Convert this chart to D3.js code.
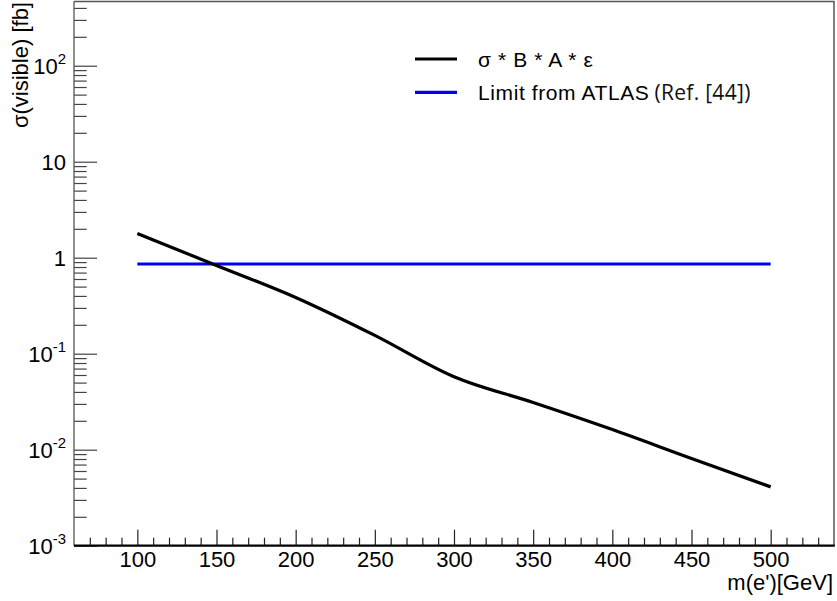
<!DOCTYPE html>
<html>
<head>
<meta charset="utf-8">
<script src="https://cdn.jsdelivr.net/npm/d3@7"></script>
<style>
  html, body { margin: 0; padding: 0; background: #fff; }
  svg { display: block; }
  text { font-family: "Liberation Sans", Arial, Helvetica, sans-serif; }
</style>
</head>
<body>
<svg id="chart" width="837" height="601"></svg>
<script>
// Signal curve: visible cross section vs e' mass
const masses = [100, 150, 200, 250, 300, 350, 400, 450, 500];
const sigmaVisible = [1.79, 0.83, 0.385, 0.155, 0.0575, 0.031, 0.0162, 0.0081, 0.0041];
// ATLAS limit (flat)
const limitMasses = [100, 500];
const limitValues = [0.86, 0.86];

const xMajorTicks = [100, 150, 200, 250, 300, 350, 400, 450, 500];
const yDecades = [1e-3, 1e-2, 1e-1, 1, 10, 100];
const yDecadeLabels = [["10", "-3"], ["10", "-2"], ["10", "-1"], ["1", ""], ["10", ""], ["10", "2"]];
const legendLabels = ["σ * B * A * ε", "Limit from ATLAS"];
const legendRef = "(Ref. [44])";

const W = 837, H = 601;
const plot = { left: 74, right: 834, top: 1.5, bottom: 545.7 };

const svg = d3.select("#chart");

const x = d3.scaleLinear().domain([60, 540]).range([plot.left, plot.right]);
const y = d3.scaleLog().domain([1e-3, Math.pow(10, 2.669)]).range([plot.bottom, plot.top]);

// minor ticks
const xMinor = d3.range(70, 540, 10).filter(v => v % 50 !== 0);
const yMinor = [];
yDecades.forEach(d => {
  for (let k = 2; k <= 9; k++) {
    const v = d * k;
    if (v < y.domain()[1]) yMinor.push(v);
  }
});

const axisColor = "#444";

// frame: top and right edges
svg.append("path")
  .attr("d", `M${plot.left},${plot.top}H${plot.right}V${plot.bottom}`)
  .attr("fill", "none").attr("stroke", "#555").attr("stroke-width", 1.5);

// y axis (ticks point into the plot)
const gy = svg.append("g").attr("transform", `translate(${plot.left},0)`);
gy.append("g").call(d3.axisLeft(y).tickValues(yMinor).tickSize(-12.7).tickFormat(""))
  .call(g => g.select(".domain").remove())
  .call(g => g.selectAll("line").attr("stroke", axisColor).attr("stroke-width", 1.2));
const gyMaj = gy.append("g").call(d3.axisLeft(y).tickValues(yDecades).tickSize(-23).tickPadding(8)
  .tickFormat(() => ""));
gyMaj.select(".domain").remove();
gyMaj.selectAll("line").attr("stroke", axisColor).attr("stroke-width", 1.2);
gyMaj.selectAll("text")
  .attr("font-size", 22).attr("fill", "#000")
  .attr("dy", "0.36em")
  .each(function(d, i) {
    const t = d3.select(this);
    const lab = yDecadeLabels[i];
    t.append("tspan").text(lab[0]);
    if (lab[1]) t.append("tspan").attr("font-size", 15).attr("dy", "-0.7em").text(lab[1]);
  });
gy.append("line").attr("x1", 0).attr("x2", 0).attr("y1", plot.top).attr("y2", plot.bottom)
  .attr("stroke", "#555").attr("stroke-width", 1.3);

// x axis (ticks point into the plot)
const gx = svg.append("g").attr("transform", `translate(0,${plot.bottom})`);
gx.append("g").call(d3.axisBottom(x).tickValues(xMinor).tickSize(-8).tickFormat(""))
  .call(g => g.select(".domain").remove())
  .call(g => g.selectAll("line").attr("stroke", "#222").attr("stroke-width", 1.2));
gx.append("g").call(d3.axisBottom(x).tickValues(xMajorTicks).tickSize(-16).tickPadding(8).tickFormat(d3.format("d")))
  .call(g => g.select(".domain").remove())
  .call(g => g.selectAll("line").attr("stroke", "#222").attr("stroke-width", 1.2))
  .call(g => g.selectAll("text").attr("font-size", 22).attr("fill", "#000").attr("y", 6).attr("dy", "0.71em"));
gx.append("line").attr("x1", plot.left).attr("x2", plot.right + 0.75).attr("y1", 0).attr("y2", 0)
  .attr("stroke", "#000").attr("stroke-width", 2.2);

// axis titles
svg.append("text")
  .attr("transform", `translate(28,2) rotate(-90)`)
  .attr("text-anchor", "end").attr("font-size", 22).attr("fill", "#000")
  .text("σ(visible) [fb]");
svg.append("text")
  .attr("x", 833).attr("y", 590)
  .attr("text-anchor", "end").attr("font-size", 22).attr("fill", "#000")
  .text("m(e')[GeV]");

// curves
const line = d3.line().x(d => x(d[0])).y(d => y(d[1]));
svg.append("path")
  .datum(limitMasses.map((m, i) => [m, limitValues[i]]))
  .attr("d", line).attr("fill", "none").attr("stroke", "#0000ee").attr("stroke-width", 3.2);
svg.append("path")
  .datum(masses.map((m, i) => [m, sigmaVisible[i]]))
  .attr("d", line.curve(d3.curveMonotoneX)).attr("fill", "none").attr("stroke", "#000").attr("stroke-width", 3.2)
  .attr("stroke-linejoin", "round");

// legend
const legend = svg.append("g");
const legColors = ["#000", "#0000ee"];
const legY = [59, 92.3];
legendLabels.forEach((lab, i) => {
  legend.append("line").attr("x1", 415).attr("x2", 457).attr("y1", legY[i]).attr("y2", legY[i])
    .attr("stroke", legColors[i]).attr("stroke-width", 3.2);
  const t = legend.append("text").attr("x", 478).attr("y", legY[i] + 7.5)
    .attr("font-size", 21).attr("letter-spacing", 0.6).attr("fill", "#000").text(lab);
  if (i === 1) {
    t.append("tspan").attr("font-family", "'Open Sans', sans-serif").attr("font-size", 21)
      .attr("letter-spacing", 0.3).attr("dx", 5).attr("fill", "#111").text(legendRef);
  }
});
</script>
</body>
</html>
